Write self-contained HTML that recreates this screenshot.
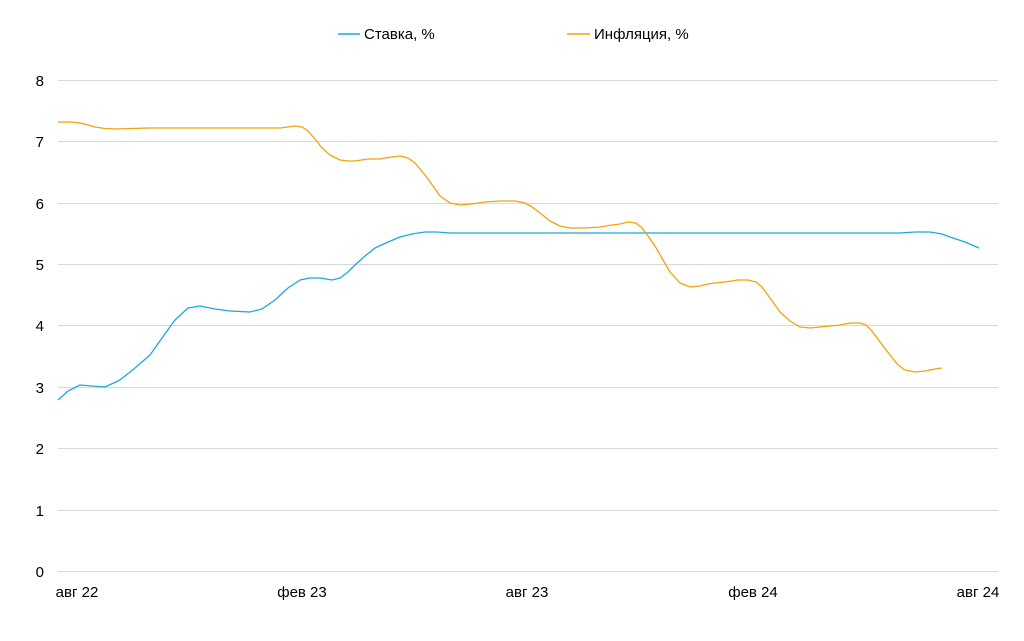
<!DOCTYPE html>
<html><head><meta charset="utf-8"><style>
html,body{margin:0;padding:0;background:#fff;}
svg text{font-family:"Liberation Sans",sans-serif;font-size:15px;fill:#000;}
</style></head><body>
<svg width="1024" height="636" viewBox="0 0 1024 636" xmlns="http://www.w3.org/2000/svg">
<g stroke="#d9d9d9" stroke-width="1">
<line x1="58" x2="998" y1="80.5" y2="80.5"/>
<line x1="58" x2="998" y1="141.5" y2="141.5"/>
<line x1="58" x2="998" y1="203.5" y2="203.5"/>
<line x1="58" x2="998" y1="264.5" y2="264.5"/>
<line x1="58" x2="998" y1="325.5" y2="325.5"/>
<line x1="58" x2="998" y1="387.5" y2="387.5"/>
<line x1="58" x2="998" y1="448.5" y2="448.5"/>
<line x1="58" x2="998" y1="510.5" y2="510.5"/>
<line x1="58" x2="998" y1="571.5" y2="571.5"/>
</g>
<g text-anchor="end">
<text x="44" y="86">8</text><text x="44" y="147">7</text><text x="44" y="209">6</text>
<text x="44" y="270">5</text><text x="44" y="331">4</text><text x="44" y="393">3</text>
<text x="44" y="454">2</text><text x="44" y="516">1</text><text x="44" y="577">0</text>
</g>
<g text-anchor="middle">
<text x="77" y="597">авг 22</text><text x="302" y="597">фев 23</text>
<text x="527" y="597">авг 23</text><text x="753" y="597">фев 24</text>
<text x="978" y="597">авг 24</text>
</g>
<line x1="338" x2="360" y1="34" y2="34" stroke="#1ba9dd" stroke-width="1.5"/>
<text x="364" y="39">Ставка, %</text>
<line x1="567" x2="590" y1="34" y2="34" stroke="#f0a30a" stroke-width="1.5"/>
<text x="594" y="39">Инфляция, %</text>
<polyline fill="none" stroke="#1ba9dd" stroke-width="1.3" stroke-linejoin="round" points="58,400 68,391 80,385 92,386 105,387 120,380 135,368 150,355 162,338 175,320 188,308 200,306 215,309 230,311 250,312 262,309 275,300 288,288 300,280 310,278 320,278 332,280 340,278 348,272 355,265 365,256 375,248 388,242 400,237 412,234 425,232 437,232 450,233 900,233 915,232 930,232 942,234 950,237 965,242 979,248"/>
<polyline fill="none" stroke="#f0a30a" stroke-width="1.3" stroke-linejoin="round" points="58,122 70,122 80,123 88,125 95,127 105,128.5 115,129 150,128 280,128 288,127 295,126 302,127 308,131 315,139 322,148 330,155 340,160 348,161 355,161 368,159 380,159 392,157 400,156 408,158 415,163 425,175 433,186 440,196 450,203 460,205 472,204 485,202 500,201 515,201 525,203 532,207 540,213 550,221 560,226 570,228 585,228 600,227 612,225 620,224 628,222 636,223 642,228 648,236 655,246 663,260 670,272 680,283 690,287 700,286 708,284 715,283 725,282 738,280 748,280 756,282 762,287 770,298 780,312 790,321 800,327 810,328 820,327 830,326 840,325 850,323 860,323 866,325 872,331 880,342 890,355 898,365 905,370 915,372 925,371 935,369 942,368"/>
</svg>
</body></html>
